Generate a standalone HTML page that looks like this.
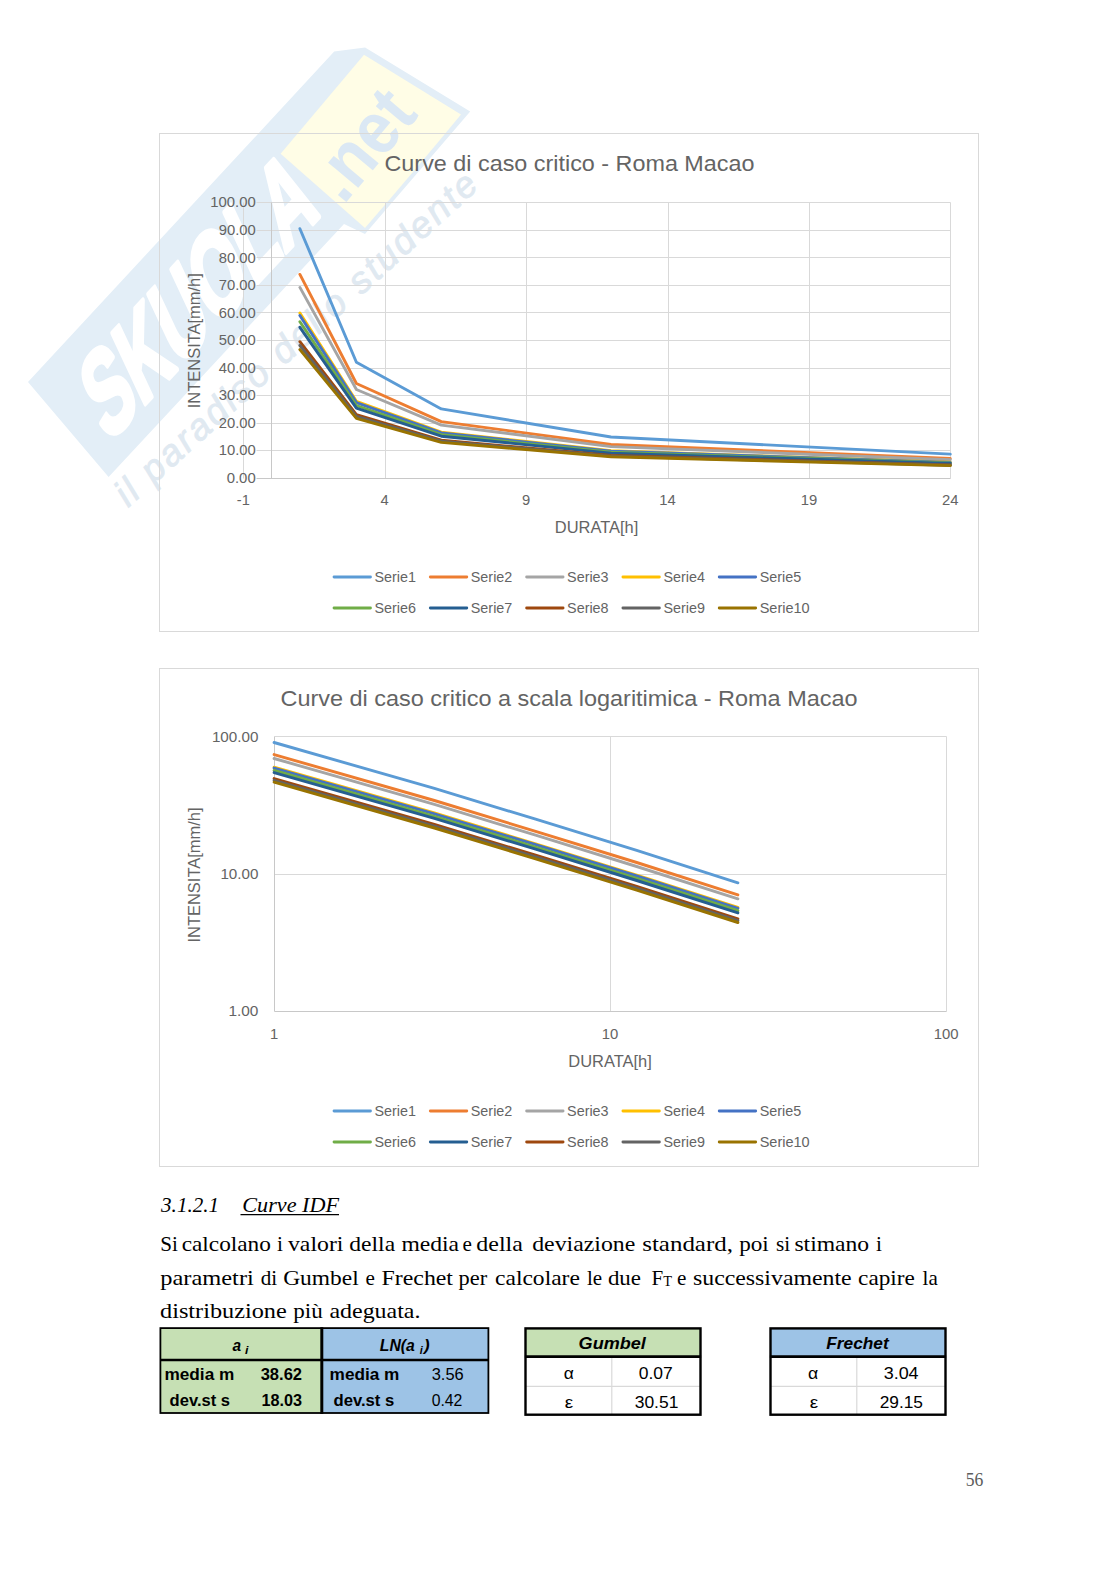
<!DOCTYPE html>
<html><head><meta charset="utf-8">
<style>
html,body{margin:0;padding:0;background:#fff;}
body{width:1116px;height:1579px;position:relative;overflow:hidden;font-family:"Liberation Sans",sans-serif;}
svg{position:absolute;left:0;top:0;}
svg text{font-family:"Liberation Sans",sans-serif;}
.t{position:absolute;white-space:nowrap;}
</style></head><body>
<svg width="1116" height="1579" viewBox="0 0 1116 1579">
<polygon points="28,382 334.2,51.6 365.1,47.5 470.2,111.4 365,234 344,224 108.6,477" fill="#e3eef7"/>
<path d="M280.6,153.7 L364,54.7 L461,114.5 Q417,168 365,228 Z" fill="#fffde6"/>
<g transform="translate(28,382) rotate(-47.07)"><text transform="translate(9,100.5) skewX(-22)" font-size="105" font-weight="bold" fill="#fff" stroke="#fff" stroke-width="4.5" stroke-linejoin="round" textLength="313" lengthAdjust="spacingAndGlyphs">SKUOLA</text></g>
<g transform="translate(343.5,205.5) rotate(-50)"><text x="0" y="0" font-size="74" font-weight="bold" fill="#dbe8f4" textLength="118" lengthAdjust="spacingAndGlyphs">.net</text></g>
<g transform="translate(128,508) rotate(-42.3)"><text x="0" y="0" font-size="37" font-style="italic" fill="#e0e9f1" stroke="#e0e9f1" stroke-width="0.8" textLength="476" lengthAdjust="spacing">il paradiso dello studente</text></g>
<rect x="159.5" y="133.5" width="819" height="498" fill="none" stroke="#d9d9d9" stroke-width="1"/>
<line x1="256.5" y1="450.5" x2="950.5" y2="450.5" stroke="#d9d9d9" stroke-width="1" />
<line x1="256.5" y1="423.5" x2="950.5" y2="423.5" stroke="#d9d9d9" stroke-width="1" />
<line x1="256.5" y1="395.5" x2="950.5" y2="395.5" stroke="#d9d9d9" stroke-width="1" />
<line x1="256.5" y1="368.5" x2="950.5" y2="368.5" stroke="#d9d9d9" stroke-width="1" />
<line x1="256.5" y1="340.5" x2="950.5" y2="340.5" stroke="#d9d9d9" stroke-width="1" />
<line x1="256.5" y1="312.5" x2="950.5" y2="312.5" stroke="#d9d9d9" stroke-width="1" />
<line x1="256.5" y1="285.5" x2="950.5" y2="285.5" stroke="#d9d9d9" stroke-width="1" />
<line x1="256.5" y1="257.5" x2="950.5" y2="257.5" stroke="#d9d9d9" stroke-width="1" />
<line x1="256.5" y1="230.5" x2="950.5" y2="230.5" stroke="#d9d9d9" stroke-width="1" />
<line x1="256.5" y1="202.5" x2="950.5" y2="202.5" stroke="#d9d9d9" stroke-width="1" />
<line x1="243.5" y1="202.5" x2="243.5" y2="478.5" stroke="#d9d9d9" stroke-width="1" />
<line x1="385.5" y1="202.5" x2="385.5" y2="478.5" stroke="#d9d9d9" stroke-width="1" />
<line x1="526.5" y1="202.5" x2="526.5" y2="478.5" stroke="#d9d9d9" stroke-width="1" />
<line x1="668.5" y1="202.5" x2="668.5" y2="478.5" stroke="#d9d9d9" stroke-width="1" />
<line x1="809.5" y1="202.5" x2="809.5" y2="478.5" stroke="#d9d9d9" stroke-width="1" />
<line x1="950.5" y1="202.5" x2="950.5" y2="478.5" stroke="#d9d9d9" stroke-width="1" />
<line x1="256.5" y1="478.5" x2="950.5" y2="478.5" stroke="#c8c8c8" stroke-width="1" />
<line x1="271.5" y1="202.5" x2="271.5" y2="478.5" stroke="#c8c8c8" stroke-width="1" />
<polyline points="299.9,228.7 356.4,362.3 441.3,408.9 611.0,437.0 950.3,454.1" fill="none" stroke="#5b9bd5" stroke-width="2.9" stroke-linejoin="round" stroke-linecap="round"/>
<polyline points="299.9,274.4 356.4,383.5 441.3,421.6 611.0,444.5 950.3,458.5" fill="none" stroke="#ed7d31" stroke-width="2.9" stroke-linejoin="round" stroke-linecap="round"/>
<polyline points="299.9,287.4 356.4,389.5 441.3,425.1 611.0,446.6 950.3,459.7" fill="none" stroke="#a5a5a5" stroke-width="2.9" stroke-linejoin="round" stroke-linecap="round"/>
<polyline points="299.9,313.0 356.4,401.4 441.3,432.2 611.0,450.8 950.3,462.1" fill="none" stroke="#ffc000" stroke-width="2.9" stroke-linejoin="round" stroke-linecap="round"/>
<polyline points="299.9,315.5 356.4,402.6 441.3,432.9 611.0,451.2 950.3,462.4" fill="none" stroke="#4472c4" stroke-width="2.9" stroke-linejoin="round" stroke-linecap="round"/>
<polyline points="299.9,321.8 356.4,405.5 441.3,434.7 611.0,452.3 950.3,463.0" fill="none" stroke="#70ad47" stroke-width="2.9" stroke-linejoin="round" stroke-linecap="round"/>
<polyline points="299.9,327.3 356.4,408.1 441.3,436.2 611.0,453.2 950.3,463.5" fill="none" stroke="#255e91" stroke-width="2.9" stroke-linejoin="round" stroke-linecap="round"/>
<polyline points="299.9,341.7 356.4,414.7 441.3,440.2 611.0,455.5 950.3,464.9" fill="none" stroke="#9e480e" stroke-width="2.9" stroke-linejoin="round" stroke-linecap="round"/>
<polyline points="299.9,345.5 356.4,416.5 441.3,441.2 611.0,456.1 950.3,465.2" fill="none" stroke="#636363" stroke-width="2.9" stroke-linejoin="round" stroke-linecap="round"/>
<polyline points="299.9,349.6 356.4,418.4 441.3,442.4 611.0,456.8 950.3,465.6" fill="none" stroke="#997300" stroke-width="2.9" stroke-linejoin="round" stroke-linecap="round"/>
<text x="255.7" y="483.0" font-size="14.2" text-anchor="end" fill="#646464" textLength="29" lengthAdjust="spacingAndGlyphs" >0.00</text>
<text x="255.7" y="455.44" font-size="14.2" text-anchor="end" fill="#646464" textLength="37" lengthAdjust="spacingAndGlyphs" >10.00</text>
<text x="255.7" y="427.88" font-size="14.2" text-anchor="end" fill="#646464" textLength="37" lengthAdjust="spacingAndGlyphs" >20.00</text>
<text x="255.7" y="400.32" font-size="14.2" text-anchor="end" fill="#646464" textLength="37" lengthAdjust="spacingAndGlyphs" >30.00</text>
<text x="255.7" y="372.76" font-size="14.2" text-anchor="end" fill="#646464" textLength="37" lengthAdjust="spacingAndGlyphs" >40.00</text>
<text x="255.7" y="345.2" font-size="14.2" text-anchor="end" fill="#646464" textLength="37" lengthAdjust="spacingAndGlyphs" >50.00</text>
<text x="255.7" y="317.64000000000004" font-size="14.2" text-anchor="end" fill="#646464" textLength="37" lengthAdjust="spacingAndGlyphs" >60.00</text>
<text x="255.7" y="290.08" font-size="14.2" text-anchor="end" fill="#646464" textLength="37" lengthAdjust="spacingAndGlyphs" >70.00</text>
<text x="255.7" y="262.52000000000004" font-size="14.2" text-anchor="end" fill="#646464" textLength="37" lengthAdjust="spacingAndGlyphs" >80.00</text>
<text x="255.7" y="234.96" font-size="14.2" text-anchor="end" fill="#646464" textLength="37" lengthAdjust="spacingAndGlyphs" >90.00</text>
<text x="255.7" y="207.40000000000003" font-size="14.2" text-anchor="end" fill="#646464" textLength="45.5" lengthAdjust="spacingAndGlyphs" >100.00</text>
<text x="243.32000000000002" y="504.8" font-size="14.2" text-anchor="middle" fill="#646464" textLength="13" lengthAdjust="spacingAndGlyphs" >-1</text>
<text x="384.72" y="504.8" font-size="14.2" text-anchor="middle" fill="#646464" textLength="8.2" lengthAdjust="spacingAndGlyphs" >4</text>
<text x="526.12" y="504.8" font-size="14.2" text-anchor="middle" fill="#646464" textLength="8.2" lengthAdjust="spacingAndGlyphs" >9</text>
<text x="667.52" y="504.8" font-size="14.2" text-anchor="middle" fill="#646464" textLength="16.5" lengthAdjust="spacingAndGlyphs" >14</text>
<text x="808.9200000000001" y="504.8" font-size="14.2" text-anchor="middle" fill="#646464" textLength="16.5" lengthAdjust="spacingAndGlyphs" >19</text>
<text x="950.32" y="504.8" font-size="14.2" text-anchor="middle" fill="#646464" textLength="16.5" lengthAdjust="spacingAndGlyphs" >24</text>
<text x="596.5" y="533" font-size="16.4" text-anchor="middle" fill="#646464" textLength="83.5" lengthAdjust="spacingAndGlyphs" >DURATA[h]</text>
<text transform="translate(200.4,340.7) rotate(-90)" font-size="16.4" text-anchor="middle" fill="#646464" textLength="135" lengthAdjust="spacingAndGlyphs">INTENSITA[mm/h]</text>
<text x="569.5" y="171.4" font-size="22.8" text-anchor="middle" fill="#646464" textLength="370" lengthAdjust="spacingAndGlyphs" >Curve di caso critico - Roma Macao</text>
<line x1="334.0" y1="577" x2="370.5" y2="577" stroke="#5b9bd5" stroke-width="2.8" stroke-linecap="round"/>
<text x="374.5" y="582" font-size="14.2" text-anchor="start" fill="#646464" textLength="41.5" lengthAdjust="spacingAndGlyphs" >Serie1</text>
<line x1="430.3" y1="577" x2="466.8" y2="577" stroke="#ed7d31" stroke-width="2.8" stroke-linecap="round"/>
<text x="470.8" y="582" font-size="14.2" text-anchor="start" fill="#646464" textLength="41.5" lengthAdjust="spacingAndGlyphs" >Serie2</text>
<line x1="526.6" y1="577" x2="563.1" y2="577" stroke="#a5a5a5" stroke-width="2.8" stroke-linecap="round"/>
<text x="567.1" y="582" font-size="14.2" text-anchor="start" fill="#646464" textLength="41.5" lengthAdjust="spacingAndGlyphs" >Serie3</text>
<line x1="622.9" y1="577" x2="659.4" y2="577" stroke="#ffc000" stroke-width="2.8" stroke-linecap="round"/>
<text x="663.4" y="582" font-size="14.2" text-anchor="start" fill="#646464" textLength="41.5" lengthAdjust="spacingAndGlyphs" >Serie4</text>
<line x1="719.2" y1="577" x2="755.7" y2="577" stroke="#4472c4" stroke-width="2.8" stroke-linecap="round"/>
<text x="759.7" y="582" font-size="14.2" text-anchor="start" fill="#646464" textLength="41.5" lengthAdjust="spacingAndGlyphs" >Serie5</text>
<line x1="334.0" y1="608" x2="370.5" y2="608" stroke="#70ad47" stroke-width="2.8" stroke-linecap="round"/>
<text x="374.5" y="613" font-size="14.2" text-anchor="start" fill="#646464" textLength="41.5" lengthAdjust="spacingAndGlyphs" >Serie6</text>
<line x1="430.3" y1="608" x2="466.8" y2="608" stroke="#255e91" stroke-width="2.8" stroke-linecap="round"/>
<text x="470.8" y="613" font-size="14.2" text-anchor="start" fill="#646464" textLength="41.5" lengthAdjust="spacingAndGlyphs" >Serie7</text>
<line x1="526.6" y1="608" x2="563.1" y2="608" stroke="#9e480e" stroke-width="2.8" stroke-linecap="round"/>
<text x="567.1" y="613" font-size="14.2" text-anchor="start" fill="#646464" textLength="41.5" lengthAdjust="spacingAndGlyphs" >Serie8</text>
<line x1="622.9" y1="608" x2="659.4" y2="608" stroke="#636363" stroke-width="2.8" stroke-linecap="round"/>
<text x="663.4" y="613" font-size="14.2" text-anchor="start" fill="#646464" textLength="41.5" lengthAdjust="spacingAndGlyphs" >Serie9</text>
<line x1="719.2" y1="608" x2="755.7" y2="608" stroke="#997300" stroke-width="2.8" stroke-linecap="round"/>
<text x="759.7" y="613" font-size="14.2" text-anchor="start" fill="#646464" textLength="50" lengthAdjust="spacingAndGlyphs" >Serie10</text>
<rect x="159.5" y="668.5" width="819" height="498" fill="none" stroke="#d9d9d9" stroke-width="1"/>
<line x1="274.5" y1="874.5" x2="946.5" y2="874.5" stroke="#d9d9d9" stroke-width="1" />
<line x1="274.5" y1="736.5" x2="946.5" y2="736.5" stroke="#d9d9d9" stroke-width="1" />
<line x1="610.5" y1="736.5" x2="610.5" y2="1011.5" stroke="#d9d9d9" stroke-width="1" />
<line x1="946.5" y1="736.5" x2="946.5" y2="1011.5" stroke="#d9d9d9" stroke-width="1" />
<line x1="274.5" y1="1011.5" x2="946.5" y2="1011.5" stroke="#c8c8c8" stroke-width="1" />
<line x1="274.5" y1="736.5" x2="274.5" y2="1011.5" stroke="#c8c8c8" stroke-width="1" />
<polyline points="274.1,742.5 434.4,788.4 535.6,819.2 636.7,850.4 737.9,882.8" fill="none" stroke="#5b9bd5" stroke-width="2.9" stroke-linejoin="round" stroke-linecap="round"/>
<polyline points="274.1,754.6 434.4,800.5 535.6,831.3 636.7,862.5 737.9,894.9" fill="none" stroke="#ed7d31" stroke-width="2.9" stroke-linejoin="round" stroke-linecap="round"/>
<polyline points="274.1,758.5 434.4,804.4 535.6,835.2 636.7,866.5 737.9,898.8" fill="none" stroke="#a5a5a5" stroke-width="2.9" stroke-linejoin="round" stroke-linecap="round"/>
<polyline points="274.1,767.2 434.4,813.0 535.6,843.8 636.7,875.1 737.9,907.5" fill="none" stroke="#ffc000" stroke-width="2.9" stroke-linejoin="round" stroke-linecap="round"/>
<polyline points="274.1,768.1 434.4,813.9 535.6,844.7 636.7,876.0 737.9,908.4" fill="none" stroke="#4472c4" stroke-width="2.9" stroke-linejoin="round" stroke-linecap="round"/>
<polyline points="274.1,770.4 434.4,816.3 535.6,847.1 636.7,878.3 737.9,910.7" fill="none" stroke="#70ad47" stroke-width="2.9" stroke-linejoin="round" stroke-linecap="round"/>
<polyline points="274.1,772.6 434.4,818.4 535.6,849.2 636.7,880.5 737.9,912.9" fill="none" stroke="#255e91" stroke-width="2.9" stroke-linejoin="round" stroke-linecap="round"/>
<polyline points="274.1,778.6 434.4,824.4 535.6,855.2 636.7,886.5 737.9,918.8" fill="none" stroke="#9e480e" stroke-width="2.9" stroke-linejoin="round" stroke-linecap="round"/>
<polyline points="274.1,780.3 434.4,826.1 535.6,856.9 636.7,888.2 737.9,920.6" fill="none" stroke="#636363" stroke-width="2.9" stroke-linejoin="round" stroke-linecap="round"/>
<polyline points="274.1,782.2 434.4,828.0 535.6,858.8 636.7,890.1 737.9,922.5" fill="none" stroke="#997300" stroke-width="2.9" stroke-linejoin="round" stroke-linecap="round"/>
<text x="258.4" y="1016.3000000000001" font-size="14.2" text-anchor="end" fill="#646464" textLength="30" lengthAdjust="spacingAndGlyphs" >1.00</text>
<text x="258.4" y="879.0" font-size="14.2" text-anchor="end" fill="#646464" textLength="38" lengthAdjust="spacingAndGlyphs" >10.00</text>
<text x="258.4" y="741.7" font-size="14.2" text-anchor="end" fill="#646464" textLength="46.5" lengthAdjust="spacingAndGlyphs" >100.00</text>
<text x="274.1" y="1039" font-size="14.2" text-anchor="middle" fill="#646464" textLength="8.2" lengthAdjust="spacingAndGlyphs" >1</text>
<text x="610.1" y="1039" font-size="14.2" text-anchor="middle" fill="#646464" textLength="16.5" lengthAdjust="spacingAndGlyphs" >10</text>
<text x="946.1" y="1039" font-size="14.2" text-anchor="middle" fill="#646464" textLength="24.8" lengthAdjust="spacingAndGlyphs" >100</text>
<text x="610" y="1067" font-size="16.4" text-anchor="middle" fill="#646464" textLength="83.5" lengthAdjust="spacingAndGlyphs" >DURATA[h]</text>
<text transform="translate(200.4,875) rotate(-90)" font-size="16.4" text-anchor="middle" fill="#646464" textLength="135" lengthAdjust="spacingAndGlyphs">INTENSITA[mm/h]</text>
<text x="569" y="706.4" font-size="22.8" text-anchor="middle" fill="#646464" textLength="577" lengthAdjust="spacingAndGlyphs" >Curve di caso critico a scala logaritimica - Roma Macao</text>
<line x1="334.0" y1="1111" x2="370.5" y2="1111" stroke="#5b9bd5" stroke-width="2.8" stroke-linecap="round"/>
<text x="374.5" y="1116" font-size="14.2" text-anchor="start" fill="#646464" textLength="41.5" lengthAdjust="spacingAndGlyphs" >Serie1</text>
<line x1="430.3" y1="1111" x2="466.8" y2="1111" stroke="#ed7d31" stroke-width="2.8" stroke-linecap="round"/>
<text x="470.8" y="1116" font-size="14.2" text-anchor="start" fill="#646464" textLength="41.5" lengthAdjust="spacingAndGlyphs" >Serie2</text>
<line x1="526.6" y1="1111" x2="563.1" y2="1111" stroke="#a5a5a5" stroke-width="2.8" stroke-linecap="round"/>
<text x="567.1" y="1116" font-size="14.2" text-anchor="start" fill="#646464" textLength="41.5" lengthAdjust="spacingAndGlyphs" >Serie3</text>
<line x1="622.9" y1="1111" x2="659.4" y2="1111" stroke="#ffc000" stroke-width="2.8" stroke-linecap="round"/>
<text x="663.4" y="1116" font-size="14.2" text-anchor="start" fill="#646464" textLength="41.5" lengthAdjust="spacingAndGlyphs" >Serie4</text>
<line x1="719.2" y1="1111" x2="755.7" y2="1111" stroke="#4472c4" stroke-width="2.8" stroke-linecap="round"/>
<text x="759.7" y="1116" font-size="14.2" text-anchor="start" fill="#646464" textLength="41.5" lengthAdjust="spacingAndGlyphs" >Serie5</text>
<line x1="334.0" y1="1142" x2="370.5" y2="1142" stroke="#70ad47" stroke-width="2.8" stroke-linecap="round"/>
<text x="374.5" y="1147" font-size="14.2" text-anchor="start" fill="#646464" textLength="41.5" lengthAdjust="spacingAndGlyphs" >Serie6</text>
<line x1="430.3" y1="1142" x2="466.8" y2="1142" stroke="#255e91" stroke-width="2.8" stroke-linecap="round"/>
<text x="470.8" y="1147" font-size="14.2" text-anchor="start" fill="#646464" textLength="41.5" lengthAdjust="spacingAndGlyphs" >Serie7</text>
<line x1="526.6" y1="1142" x2="563.1" y2="1142" stroke="#9e480e" stroke-width="2.8" stroke-linecap="round"/>
<text x="567.1" y="1147" font-size="14.2" text-anchor="start" fill="#646464" textLength="41.5" lengthAdjust="spacingAndGlyphs" >Serie8</text>
<line x1="622.9" y1="1142" x2="659.4" y2="1142" stroke="#636363" stroke-width="2.8" stroke-linecap="round"/>
<text x="663.4" y="1147" font-size="14.2" text-anchor="start" fill="#646464" textLength="41.5" lengthAdjust="spacingAndGlyphs" >Serie9</text>
<line x1="719.2" y1="1142" x2="755.7" y2="1142" stroke="#997300" stroke-width="2.8" stroke-linecap="round"/>
<text x="759.7" y="1147" font-size="14.2" text-anchor="start" fill="#646464" textLength="50" lengthAdjust="spacingAndGlyphs" >Serie10</text>
<text x="161.1" y="1211.5" font-size="21.3" fill="#000" text-anchor="start" style="font-family:'Liberation Serif',serif" textLength="57.9" lengthAdjust="spacingAndGlyphs" font-style="italic">3.1.2.1</text>
<text x="242.3" y="1211.5" font-size="21.3" fill="#000" text-anchor="start" style="font-family:'Liberation Serif',serif" textLength="96.7" lengthAdjust="spacingAndGlyphs" font-style="italic">Curve IDF</text>
<line x1="240.5" y1="1214.6" x2="339" y2="1214.6" stroke="#000" stroke-width="1.2" />
<text x="160.3" y="1250.6" font-size="20.3" fill="#000" text-anchor="start" style="font-family:'Liberation Serif',serif" textLength="17.6" lengthAdjust="spacingAndGlyphs" >Si</text>
<text x="181.7" y="1250.6" font-size="20.3" fill="#000" text-anchor="start" style="font-family:'Liberation Serif',serif" textLength="89.2" lengthAdjust="spacingAndGlyphs" >calcolano</text>
<text x="277.1" y="1250.6" font-size="20.3" fill="#000" text-anchor="start" style="font-family:'Liberation Serif',serif" textLength="5.9" lengthAdjust="spacingAndGlyphs" >i</text>
<text x="288.0" y="1250.6" font-size="20.3" fill="#000" text-anchor="start" style="font-family:'Liberation Serif',serif" textLength="55.4" lengthAdjust="spacingAndGlyphs" >valori</text>
<text x="349.3" y="1250.6" font-size="20.3" fill="#000" text-anchor="start" style="font-family:'Liberation Serif',serif" textLength="45.8" lengthAdjust="spacingAndGlyphs" >della</text>
<text x="401.4" y="1250.6" font-size="20.3" fill="#000" text-anchor="start" style="font-family:'Liberation Serif',serif" textLength="57.7" lengthAdjust="spacingAndGlyphs" >media</text>
<text x="462.6" y="1250.6" font-size="20.3" fill="#000" text-anchor="start" style="font-family:'Liberation Serif',serif" textLength="9.4" lengthAdjust="spacingAndGlyphs" >e</text>
<text x="476.3" y="1250.6" font-size="20.3" fill="#000" text-anchor="start" style="font-family:'Liberation Serif',serif" textLength="46.5" lengthAdjust="spacingAndGlyphs" >della</text>
<text x="532.2" y="1250.6" font-size="20.3" fill="#000" text-anchor="start" style="font-family:'Liberation Serif',serif" textLength="103.1" lengthAdjust="spacingAndGlyphs" >deviazione</text>
<text x="642.2" y="1250.6" font-size="20.3" fill="#000" text-anchor="start" style="font-family:'Liberation Serif',serif" textLength="90.8" lengthAdjust="spacingAndGlyphs" >standard,</text>
<text x="739.2" y="1250.6" font-size="20.3" fill="#000" text-anchor="start" style="font-family:'Liberation Serif',serif" textLength="29.6" lengthAdjust="spacingAndGlyphs" >poi</text>
<text x="776.0" y="1250.6" font-size="20.3" fill="#000" text-anchor="start" style="font-family:'Liberation Serif',serif" textLength="14.1" lengthAdjust="spacingAndGlyphs" >si</text>
<text x="794.4" y="1250.6" font-size="20.3" fill="#000" text-anchor="start" style="font-family:'Liberation Serif',serif" textLength="74.8" lengthAdjust="spacingAndGlyphs" >stimano</text>
<text x="876.1" y="1250.6" font-size="20.3" fill="#000" text-anchor="start" style="font-family:'Liberation Serif',serif" textLength="5.9" lengthAdjust="spacingAndGlyphs" >i</text>
<text x="160.3" y="1285.0" font-size="20.3" fill="#000" text-anchor="start" style="font-family:'Liberation Serif',serif" textLength="93.5" lengthAdjust="spacingAndGlyphs" >parametri</text>
<text x="260.7" y="1285.0" font-size="20.3" fill="#000" text-anchor="start" style="font-family:'Liberation Serif',serif" textLength="16.4" lengthAdjust="spacingAndGlyphs" >di</text>
<text x="283.2" y="1285.0" font-size="20.3" fill="#000" text-anchor="start" style="font-family:'Liberation Serif',serif" textLength="75.5" lengthAdjust="spacingAndGlyphs" >Gumbel</text>
<text x="365.6" y="1285.0" font-size="20.3" fill="#000" text-anchor="start" style="font-family:'Liberation Serif',serif" textLength="9.4" lengthAdjust="spacingAndGlyphs" >e</text>
<text x="381.6" y="1285.0" font-size="20.3" fill="#000" text-anchor="start" style="font-family:'Liberation Serif',serif" textLength="71.4" lengthAdjust="spacingAndGlyphs" >Frechet</text>
<text x="458.5" y="1285.0" font-size="20.3" fill="#000" text-anchor="start" style="font-family:'Liberation Serif',serif" textLength="28.6" lengthAdjust="spacingAndGlyphs" >per</text>
<text x="495.0" y="1285.0" font-size="20.3" fill="#000" text-anchor="start" style="font-family:'Liberation Serif',serif" textLength="84.9" lengthAdjust="spacingAndGlyphs" >calcolare</text>
<text x="586.9" y="1285.0" font-size="20.3" fill="#000" text-anchor="start" style="font-family:'Liberation Serif',serif" textLength="15.2" lengthAdjust="spacingAndGlyphs" >le</text>
<text x="607.9" y="1285.0" font-size="20.3" fill="#000" text-anchor="start" style="font-family:'Liberation Serif',serif" textLength="33.1" lengthAdjust="spacingAndGlyphs" >due</text>
<text x="651.4" y="1285.0" font-size="20.3" fill="#000" text-anchor="start" style="font-family:'Liberation Serif',serif" textLength="11.7" lengthAdjust="spacingAndGlyphs" >F</text>
<text x="676.9" y="1285.0" font-size="20.3" fill="#000" text-anchor="start" style="font-family:'Liberation Serif',serif" textLength="9.4" lengthAdjust="spacingAndGlyphs" >e</text>
<text x="693.0" y="1285.0" font-size="20.3" fill="#000" text-anchor="start" style="font-family:'Liberation Serif',serif" textLength="158.6" lengthAdjust="spacingAndGlyphs" >successivamente</text>
<text x="858.1" y="1285.0" font-size="20.3" fill="#000" text-anchor="start" style="font-family:'Liberation Serif',serif" textLength="56.7" lengthAdjust="spacingAndGlyphs" >capire</text>
<text x="922.6" y="1285.0" font-size="20.3" fill="#000" text-anchor="start" style="font-family:'Liberation Serif',serif" textLength="15.2" lengthAdjust="spacingAndGlyphs" >la</text>
<text x="663.3" y="1285.7" font-size="15.5" fill="#000" text-anchor="start" style="font-family:'Liberation Serif',serif" textLength="8.8" lengthAdjust="spacingAndGlyphs" >T</text>
<text x="160.0" y="1318.3" font-size="20.3" fill="#000" text-anchor="start" style="font-family:'Liberation Serif',serif" textLength="126.8" lengthAdjust="spacingAndGlyphs" >distribuzione</text>
<text x="293.2" y="1318.3" font-size="20.3" fill="#000" text-anchor="start" style="font-family:'Liberation Serif',serif" textLength="29.5" lengthAdjust="spacingAndGlyphs" >più</text>
<text x="329.4" y="1318.3" font-size="20.3" fill="#000" text-anchor="start" style="font-family:'Liberation Serif',serif" textLength="91.1" lengthAdjust="spacingAndGlyphs" >adeguata.</text>
<text x="965.7" y="1485.8" font-size="18.5" fill="#5c5c5c" text-anchor="start" style="font-family:'Liberation Serif',serif" textLength="17.6" lengthAdjust="spacingAndGlyphs" >56</text>
<rect x="160" y="1328" width="162" height="85" fill="#c6e0b4"/>
<rect x="322" y="1328" width="166.5" height="85" fill="#9dc3e6"/>
<rect x="160.4" y="1328.1" width="328" height="84.9" fill="none" stroke="#000" stroke-width="1.8"/>
<line x1="160" y1="1360" x2="488.6" y2="1360" stroke="#000" stroke-width="2.4" />
<line x1="321.8" y1="1327.2" x2="321.8" y2="1414" stroke="#000" stroke-width="3" />
<text x="232.6" y="1350.6" font-size="16.5" fill="#000" text-anchor="start" font-weight="bold" font-style="italic" textLength="8.6" lengthAdjust="spacingAndGlyphs">a</text>
<text x="245" y="1353.6" font-size="11" fill="#000" text-anchor="start" font-weight="bold" font-style="italic" textLength="3.4" lengthAdjust="spacingAndGlyphs">i</text>
<text x="379.8" y="1350.6" font-size="16.5" fill="#000" text-anchor="start" font-weight="bold" font-style="italic" textLength="35" lengthAdjust="spacingAndGlyphs">LN(a</text>
<text x="419.8" y="1353.6" font-size="11" fill="#000" text-anchor="start" font-weight="bold" font-style="italic" textLength="3" lengthAdjust="spacingAndGlyphs">i</text>
<text x="424" y="1350.6" font-size="16.5" fill="#000" text-anchor="start" font-weight="bold" font-style="italic" textLength="5.6" lengthAdjust="spacingAndGlyphs">)</text>
<text x="164.5" y="1380.4" font-size="16.5" fill="#000" text-anchor="start" font-weight="bold" font-style="normal" textLength="69.8" lengthAdjust="spacingAndGlyphs">media m</text>
<text x="260.7" y="1380.4" font-size="16" fill="#000" text-anchor="start" font-weight="bold" font-style="normal" textLength="41.3" lengthAdjust="spacingAndGlyphs">38.62</text>
<text x="169.6" y="1406" font-size="16.5" fill="#000" text-anchor="start" font-weight="bold" font-style="normal" textLength="60.4" lengthAdjust="spacingAndGlyphs">dev.st s</text>
<text x="261.5" y="1406" font-size="16" fill="#000" text-anchor="start" font-weight="bold" font-style="normal" textLength="40.5" lengthAdjust="spacingAndGlyphs">18.03</text>
<text x="329.6" y="1380.4" font-size="16.5" fill="#000" text-anchor="start" font-weight="bold" font-style="normal" textLength="69.8" lengthAdjust="spacingAndGlyphs">media m</text>
<text x="431.7" y="1380.4" font-size="16" fill="#000" text-anchor="start" font-weight="normal" font-style="normal" textLength="32" lengthAdjust="spacingAndGlyphs">3.56</text>
<text x="333.5" y="1406" font-size="16.5" fill="#000" text-anchor="start" font-weight="bold" font-style="normal" textLength="60.8" lengthAdjust="spacingAndGlyphs">dev.st s</text>
<text x="431.7" y="1406" font-size="16" fill="#000" text-anchor="start" font-weight="normal" font-style="normal" textLength="30.7" lengthAdjust="spacingAndGlyphs">0.42</text>
<rect x="525.3" y="1328" width="175.4" height="29" fill="#c6e0b4"/>
<line x1="611.8" y1="1358" x2="611.8" y2="1415" stroke="#d9d9d9" stroke-width="1.2" />
<line x1="525.3" y1="1386.3" x2="700.6999999999999" y2="1386.3" stroke="#d9d9d9" stroke-width="1.2" />
<rect x="525.5" y="1328.4" width="175" height="86.3" fill="none" stroke="#000" stroke-width="2.4"/>
<line x1="524.9" y1="1356.6" x2="701.0999999999999" y2="1356.6" stroke="#000" stroke-width="2.6" />
<text x="578.6" y="1348.7" font-size="16.5" fill="#000" text-anchor="start" font-weight="bold" font-style="italic" textLength="67.19999999999993" lengthAdjust="spacingAndGlyphs">Gumbel</text>
<text x="563.7" y="1379.3" font-size="17" fill="#000" text-anchor="start" font-weight="normal" font-style="normal" textLength="10.099999999999909" lengthAdjust="spacingAndGlyphs">α</text>
<text x="638.7" y="1379.3" font-size="16" fill="#000" text-anchor="start" font-weight="normal" font-style="normal" textLength="34.0" lengthAdjust="spacingAndGlyphs">0.07</text>
<text x="564.8" y="1407.5" font-size="17" fill="#000" text-anchor="start" font-weight="normal" font-style="normal" textLength="8.400000000000091" lengthAdjust="spacingAndGlyphs">ε</text>
<text x="634.7" y="1407.5" font-size="16" fill="#000" text-anchor="start" font-weight="normal" font-style="normal" textLength="43.69999999999993" lengthAdjust="spacingAndGlyphs">30.51</text>
<rect x="770.3" y="1328" width="175.4" height="29" fill="#9dc3e6"/>
<line x1="856.8" y1="1358" x2="856.8" y2="1415" stroke="#d9d9d9" stroke-width="1.2" />
<line x1="770.3" y1="1386.3" x2="945.6999999999999" y2="1386.3" stroke="#d9d9d9" stroke-width="1.2" />
<rect x="770.5" y="1328.4" width="175" height="86.3" fill="none" stroke="#000" stroke-width="2.4"/>
<line x1="769.9" y1="1356.6" x2="946.0999999999999" y2="1356.6" stroke="#000" stroke-width="2.6" />
<text x="826.3" y="1348.7" font-size="16.5" fill="#000" text-anchor="start" font-weight="bold" font-style="italic" textLength="62.40000000000009" lengthAdjust="spacingAndGlyphs">Frechet</text>
<text x="808" y="1379.3" font-size="17" fill="#000" text-anchor="start" font-weight="normal" font-style="normal" textLength="10.200000000000045" lengthAdjust="spacingAndGlyphs">α</text>
<text x="883.7" y="1379.3" font-size="16" fill="#000" text-anchor="start" font-weight="normal" font-style="normal" textLength="34.89999999999998" lengthAdjust="spacingAndGlyphs">3.04</text>
<text x="809.8" y="1407.5" font-size="17" fill="#000" text-anchor="start" font-weight="normal" font-style="normal" textLength="8.400000000000091" lengthAdjust="spacingAndGlyphs">ε</text>
<text x="879.7" y="1407.5" font-size="16" fill="#000" text-anchor="start" font-weight="normal" font-style="normal" textLength="43.299999999999955" lengthAdjust="spacingAndGlyphs">29.15</text>
</svg>
<!--BODY-->
</body></html>
